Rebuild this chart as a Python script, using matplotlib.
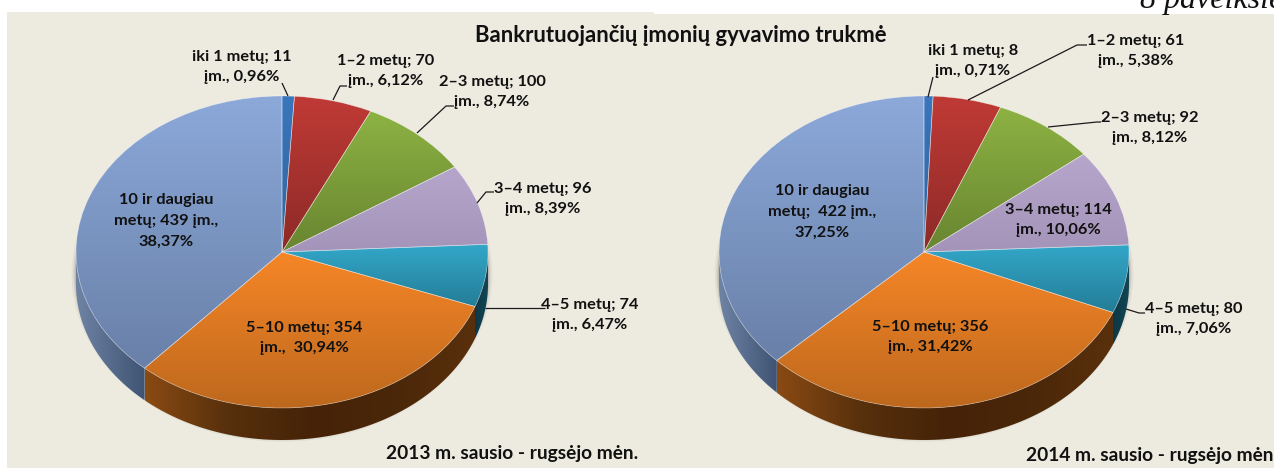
import numpy as np
import matplotlib.pyplot as plt
from matplotlib.colors import LinearSegmentedColormap
from matplotlib.patches import Ellipse, Polygon, Rectangle

plt.rcParams["font.family"] = ["Lato", "DejaVu Sans"]

W, H = 1274, 468

categories = ["iki 1 metų", "1–2 metų", "2–3 metų", "3–4 metų", "4–5 metų", "5–10 metų", "10 ir daugiau metų"]
values_2013 = [11, 70, 100, 96, 74, 354, 439]
values_2014 = [8, 61, 92, 114, 80, 356, 422]

title = "Bankrutuojančių įmonių gyvavimo trukmė"
caption_2013 = "2013 m. sausio - rugsėjo mėn."
caption_2014 = "2014 m. sausio - rugsėjo mėn."
figure_no = "8 paveikslė"

labels_2013 = [
    "iki 1 metų; 11\nįm., 0,96%",
    "1–2 metų; 70\nįm., 6,12%",
    "2–3 metų; 100\nįm., 8,74%",
    "3–4 metų; 96\nįm., 8,39%",
    "4–5 metų; 74\nįm., 6,47%",
    "5–10 metų; 354\nįm.,  30,94%",
    "10 ir daugiau\nmetų; 439 įm.,\n38,37%",
]
labels_2014 = [
    "iki 1 metų; 8\nįm., 0,71%",
    "1–2 metų; 61\nįm., 5,38%",
    "2–3 metų; 92\nįm., 8,12%",
    "3–4 metų; 114\nįm., 10,06%",
    "4–5 metų; 80\nįm., 7,06%",
    "5–10 metų; 356\nįm., 31,42%",
    "10 ir daugiau\nmetų;  422 įm.,\n37,25%",
]

# label centres in pixels
label_pos_2013 = [(242, 67), (386, 71), (492, 92), (543, 199), (590, 315), (304, 338), (166, 221)]
label_pos_2014 = [(973, 61), (1136, 51), (1150, 128), (1058, 220), (1194, 319), (930, 337), (822, 212)]

# leader lines in pixels
leaders_2013 = [
    [(282, 83), (288, 96)],
    [(347, 86), (340, 86), (333, 100)],
    [(454, 106), (446, 106), (417, 133)],
    [(494, 192), (486, 192), (477, 203)],
    [(545, 308), (485, 308)],
]
leaders_2014 = [
    [(933, 77), (928, 97)],
    [(1087, 45), (1077, 45), (968, 100)],
    [(1101, 122), (1097, 122), (1048, 127)],
    [(1145, 313), (1139, 313), (1126, 309)],
]

# top face gradient: upper colour, lower colour
top_colors = [
    ("#3a76bd", "#2f649f"),
    ("#c03a36", "#8c2a27"),
    ("#8db243", "#688530"),
    ("#b7a6cc", "#a594ba"),
    ("#33a7c9", "#247d97"),
    ("#f68627", "#bd681d"),
    ("#8ca9da", "#6980a8"),
]
# side face gradient, left to right
side_colors = [
    ("#222222", "#222222"),
    ("#222222", "#222222"),
    ("#222222", "#222222"),
    ("#222222", "#222222"),
    ("#0e3744", "#124656"),
    ("#8a4a13", "#57300c", "#462308", "#4a2709", "#5a300c"),
    ("#6f84a5", "#3f5373"),
]


def vertical_gradient(ax, patch, colors):
    x0, y0, x1, y1 = patch.get_path().get_extents().extents
    cmap = LinearSegmentedColormap.from_list("g", colors)
    im = ax.imshow(np.linspace(0, 1, 256).reshape(-1, 1), cmap=cmap, origin="upper",
                   extent=(x0, x1, y0, y1), aspect="auto", zorder=3)
    im.set_clip_path(patch)


def side_polygons(ax, wedges, depth):
    for wedge, colors in zip(wedges, side_colors):
        for off in (0, 360):
            t1 = max(wedge.theta1 + off, 180)
            t2 = min(wedge.theta2 + off, 360)
            if t2 <= t1:
                continue
            t = np.radians(np.linspace(t1, t2, 80))
            x, y = np.cos(t), np.sin(t)
            pts = np.r_[np.c_[x, y], np.c_[x, y - depth][::-1]]
            poly = Polygon(pts, closed=True, fc="none", ec="none")
            ax.add_patch(poly)
            cmap = LinearSegmentedColormap.from_list("s", colors)
            im = ax.imshow(np.linspace(0, 1, 256).reshape(1, -1), cmap=cmap,
                           extent=(x.min(), x.max(), pts[:, 1].min(), pts[:, 1].max()),
                           aspect="auto", zorder=2)
            im.set_clip_path(poly)


def draw_pie(fig, values, cx, cy, rx, ry, depth_px):
    pad = 1.12
    depth = depth_px / ry
    y_low = -1 - depth - 0.12
    y_high = 1.12
    rect = ((cx - rx * pad) / W, (H - (cy - y_low * ry)) / H,
            2 * rx * pad / W, (y_high - y_low) * ry / H)
    ax = fig.add_axes(rect)
    ax.patch.set_alpha(0)

    wedges, _ = ax.pie(values, startangle=90, counterclock=False, radius=1,
                       wedgeprops={"fc": "none", "ec": "#ffffff", "lw": 0.5, "alpha": 0.45, "zorder": 4})

    # soft shadow around the body
    for i, a in zip((7, 4, 2), (0.06, 0.09, 0.14)):
        ax.add_patch(Ellipse((0, -depth * 0.7), 2 + i * 0.006, 2 + i * 0.006 + depth * 0.5,
                             fc="#333333", ec="none", alpha=a, zorder=1))

    side_polygons(ax, wedges, depth)
    for wedge, colors in zip(wedges, top_colors):
        vertical_gradient(ax, wedge, colors)

    ax.set_aspect("auto")
    ax.set_xlim(-pad, pad)
    ax.set_ylim(y_low, y_high)
    ax.axis("off")
    return ax


def main() -> None:
    fig = plt.figure(figsize=(W / 100, H / 100), dpi=100, facecolor="white")

    bg = fig.add_axes([0, 0, 1, 1], zorder=0)
    bg.set_xlim(0, W)
    bg.set_ylim(H, 0)
    bg.axis("off")
    bg.add_patch(Rectangle((7, 12), 647, H - 12, fc="#edebe0", ec="none"))
    bg.add_patch(Rectangle((654, 14), W - 654, H - 14, fc="#edebe0", ec="none"))

    draw_pie(fig, values_2013, 282, 252, 206, 156, 32)
    draw_pie(fig, values_2014, 924, 252, 205, 156, 32)

    # text and leader lines over the pies
    top = fig.add_axes([0, 0, 1, 1], zorder=5)
    top.set_xlim(0, W)
    top.set_ylim(H, 0)
    top.axis("off")

    for leaders in (leaders_2013, leaders_2014):
        for pts in leaders:
            xs, ys = zip(*pts)
            top.plot(xs, ys, color="#1a1a1a", lw=0.9, solid_capstyle="butt")

    font = {"fontsize": 11.8, "fontweight": "bold", "color": "#111111",
            "ha": "center", "va": "center", "linespacing": 1.62}
    for labels, positions in ((labels_2013, label_pos_2013), (labels_2014, label_pos_2014)):
        for text, (x, y) in zip(labels, positions):
            top.text(x, y, text, **font)

    top.text(681, 35, title, fontsize=15.9, fontweight="bold", color="#111111", ha="center", va="center")
    top.text(386, 453, caption_2013, fontsize=13.8, fontweight="bold", color="#111111", ha="left", va="center")
    top.text(1026, 455, caption_2014, fontsize=13.8, fontweight="bold", color="#111111", ha="left", va="center")
    top.text(1140, 8, figure_no, fontsize=23, family="Liberation Serif", style="italic",
             color="#111111", ha="left", va="baseline")

    fig.savefig("out.png", dpi=100)


if __name__ == "__main__":
    main()
